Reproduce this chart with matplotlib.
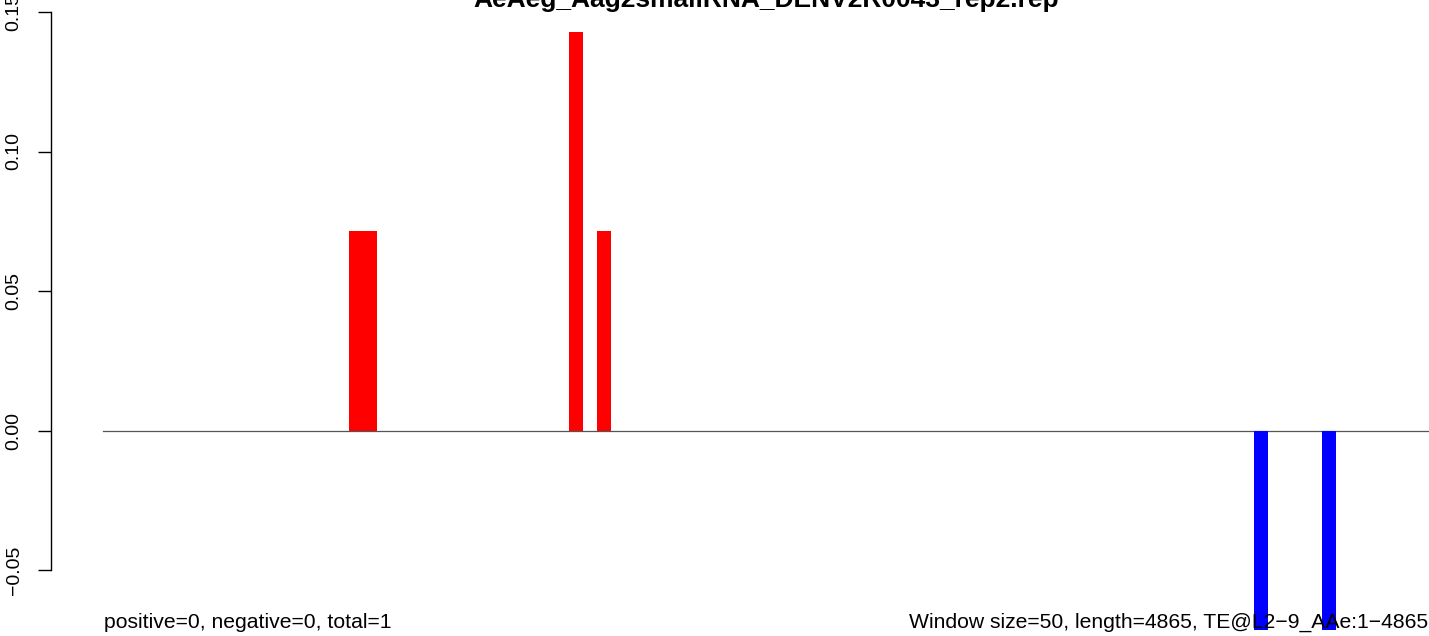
import numpy as np
import matplotlib
matplotlib.use("Agg")
import matplotlib.pyplot as plt

# window start positions (nt) and normalised counts
window = 50
pos_starts = [880, 930, 1665, 1765]
pos_values = [0.0714, 0.0714, 0.1429, 0.0714]
neg_starts = [4110, 4355]
neg_values = [-0.0714, -0.0714]

title = "AeAeg_Aag2smallRNA_DENV2R0043_rep2.rep"
left_note = "positive=0, negative=0, total=1"
right_note = "Window size=50, length=4865, TE@L2\u22129_AAe:1\u22124865"
yticks = [-0.05, 0.0, 0.05, 0.10, 0.15]
seq_len = 4865

plt.rcParams['font.family'] = ['Liberation Sans', 'DejaVu Sans']

W, H = 1429, 636
fig = plt.figure(figsize=(W / 100, H / 100), dpi=100)
# axes in pixel terms: left 51..1429, y from 570 (-0.05) to 12 (0.15)
ax = fig.add_axes([51 / W, (H - 570) / H, (W - 51) / W, (570 - 12) / H])

kx = 0.28  # px per nt
ax.set_xlim(-52 / kx, (W - 103) / kx)
ax.set_ylim(-0.05, 0.15)

ax.bar(pos_starts, pos_values, width=window, align='edge', color='red',
       linewidth=0, clip_on=False)
ax.bar(neg_starts, neg_values, width=window, align='edge', color='blue',
       linewidth=0, clip_on=False, zorder=3)
ax.plot([0, seq_len], [0, 0], color='#555555', linewidth=0.9, zorder=1)

for s in ['top', 'right', 'bottom']:
    ax.spines[s].set_visible(False)
ax.spines['left'].set_linewidth(1.0)
ax.spines['left'].set_bounds(-0.05, 0.15)
ax.set_xticks([])
ax.set_yticks(yticks)
ax.set_yticklabels([f"{t:.2f}".replace("-", "\u2212") for t in yticks],
                   rotation=90, va='center', fontsize=14)
ax.tick_params(axis='y', length=9.5, width=1.0, pad=11)

fig.text(766 / W, 1 - 7 / H, title, ha='center', va='baseline',
         fontsize=19, fontweight='bold')
fig.text(104 / W, 1 - 628 / H, left_note, ha='left', va='baseline', fontsize=15.2)
fig.text(1 - 0.5 / W, 1 - 628 / H, right_note, ha='right', va='baseline',
         fontsize=15.2, zorder=0)

fig.savefig("out.png", dpi=100)
